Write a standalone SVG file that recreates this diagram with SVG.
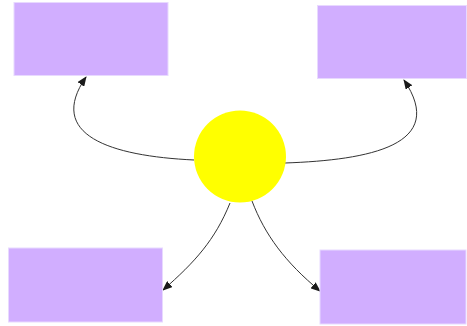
<svg xmlns="http://www.w3.org/2000/svg" width="467" height="326" viewBox="0 0 467 326">
  <defs>
    <style>
      .box { fill: #d1aeff; stroke: #e8d9ff; stroke-width: 1; }
      .hub { fill: #ffff00; }
      .edge { fill: none; stroke: #333333; stroke-width: 1; }
    </style>
    <marker id="arrow" markerWidth="10" markerHeight="8" refX="9" refY="4" orient="auto" markerUnits="userSpaceOnUse">
      <path d="M0,0 L10,4 L0,8 Z" fill="#1a1a1a"/>
    </marker>
  </defs>
  <rect width="467" height="326" fill="#ffffff"/>

  <g id="connectors">
    <path class="edge" marker-end="url(#arrow)" d="M194,160 C110,156 46,135 86,77"/>
    <path class="edge" marker-end="url(#arrow)" d="M285,163 C370,160 448,145 404,80"/>
    <path class="edge" marker-end="url(#arrow)" d="M230,203 C215,240 195,262 163,290"/>
    <path class="edge" marker-end="url(#arrow)" d="M252,201 C265,235 285,262 320,291"/>
  </g>

  <g id="node-top-left">
    <rect class="box" x="14" y="2.5" width="154" height="73"/>
  </g>
  <g id="node-top-right">
    <rect class="box" x="317.5" y="5.5" width="149" height="73"/>
  </g>
  <g id="node-bottom-left">
    <rect class="box" x="8.5" y="248" width="154" height="74"/>
  </g>
  <g id="node-bottom-right">
    <rect class="box" x="320" y="250" width="146" height="74"/>
  </g>
  <g id="node-center">
    <circle class="hub" cx="240" cy="156.5" r="46"/>
  </g>
</svg>
